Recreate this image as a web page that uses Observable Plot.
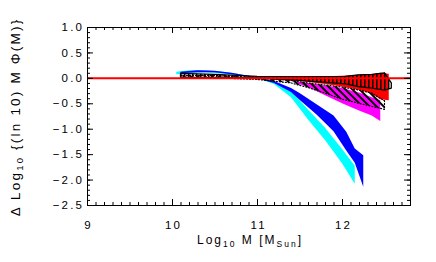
<!DOCTYPE html>
<html>
<head>
<meta charset="utf-8">
<script src="https://cdn.jsdelivr.net/npm/d3@7"></script>
<script src="https://cdn.jsdelivr.net/npm/@observablehq/plot@0.6"></script>
<style>
  html, body { margin: 0; padding: 0; background: white; }
</style>
</head>
<body>
<div id="chart"></div>
<script>
// ---- Data ----
const xTicks = [9, 10, 11, 12];
const yTicks = [1.0, 0.5, 0.0, -0.5, -1.0, -1.5, -2.0, -2.5];

// Cyan band
const cyanX  = [10.05, 10.2, 10.4, 10.6, 10.8, 11.0, 11.2, 11.4, 11.6, 11.8, 12.0, 12.15];
const cyanLo = [0.07, 0.10, 0.11, 0.08, 0.04, -0.01, -0.12, -0.38, -0.82, -1.22, -1.68, -2.08];
const cyanHi = [0.12, 0.15, 0.15, 0.12, 0.07, 0.01, -0.07, -0.26, -0.62, -0.98, -1.40, -1.73];

// Blue band
const blueX  = [10.1, 10.3, 10.5, 10.7, 10.9, 11.0, 11.2, 11.4, 11.5, 11.7, 11.9, 12.05, 12.15, 12.25];
const blueLo = [0.09, 0.11, 0.11, 0.07, 0.02, -0.01, -0.10, -0.28, -0.43, -0.72, -1.05, -1.43, -1.67, -2.14];
const blueHi = [0.12, 0.15, 0.14, 0.10, 0.04, 0.01, -0.06, -0.20, -0.30, -0.52, -0.74, -1.06, -1.39, -1.52];

// Magenta band
const magX  = [11.42, 11.6, 11.8, 12.0, 12.2, 12.35, 12.45];
const magLo = [-0.08, -0.18, -0.34, -0.50, -0.64, -0.74, -0.85];
const magHi = [-0.06, -0.10, -0.15, -0.20, -0.29, -0.38, -0.44];

// Red band
const redX  = [10.9, 11.2, 11.5, 11.8, 12.0, 12.2, 12.35, 12.45, 12.55];
const redLo = [-0.01, -0.03, -0.06, -0.12, -0.17, -0.24, -0.31, -0.42, -0.44];
const redHi = [0.02, 0.03, 0.03, 0.03, 0.04, 0.06, 0.07, 0.10, 0.08];

// Black diagonal-hatched band (dotted outline)
const diagX  = [10.1, 10.5, 11.0, 11.4, 11.6, 11.8, 12.0, 12.2, 12.35, 12.5];
const diagLo = [0.01, 0.0, -0.03, -0.10, -0.19, -0.30, -0.42, -0.50, -0.56, -0.62];
const diagHi = [0.05, 0.05, 0.0, -0.05, -0.10, -0.14, -0.18, -0.24, -0.30, -0.45];

// Black vertical-hatched band (solid outline)
const vertX  = [10.1, 10.5, 11.0, 11.5, 12.04, 12.19, 12.35, 12.5, 12.58];
const vertLo = [0.01, 0.01, 0.0, -0.05, -0.12, -0.17, -0.20, -0.24, -0.20];
const vertHi = [0.09, 0.07, 0.03, 0.02, 0.03, 0.06, 0.07, 0.10, -0.10];

const band = (xs, lo, hi) => xs.map((x, i) => ({x, lo: lo[i], hi: hi[i]}));

const xMinor = d3.range(9, 12.81, 0.1).map(v => +v.toFixed(1));
const yMinor = d3.range(-2.5, 1.01, 0.1).map(v => +v.toFixed(1));
const fmtY = d => d.toFixed(1).replace("-", "\u2212");

const font = "Liberation Sans, Arial, Helvetica, sans-serif";

// inner plot size (for inward tick lengths)
const W = 436, H = 262, mL = 87, mR = 26, mT = 27, mB = 57;
const iW = W - mL - mR, iH = H - mT - mB;
const major = 6, minor = 3;
const ls = 2.2; // letter spacing of tick labels

const svg = Plot.plot({
  width: W,
  height: H,
  marginLeft: mL,
  marginRight: mR,
  marginTop: mT,
  marginBottom: mB,
  x: {domain: [9, 12.8]},
  y: {domain: [-2.5, 1.0]},
  style: {fontFamily: font, fontSize: "11px", background: "white", color: "black"},
  marks: [
    Plot.areaY(band(cyanX, cyanLo, cyanHi), {x: "x", y1: "lo", y2: "hi", fill: "cyan"}),
    Plot.areaY(band(blueX, blueLo, blueHi), {x: "x", y1: "lo", y2: "hi", fill: "blue"}),
    Plot.areaY(band(magX, magLo, magHi), {x: "x", y1: "lo", y2: "hi", fill: "magenta"}),
    Plot.areaY(band(redX, redLo, redHi), {x: "x", y1: "lo", y2: "hi", fill: "red"}),
    Plot.areaY(band(diagX, diagLo, diagHi), {x: "x", y1: "lo", y2: "hi", fill: "url(#dhatch)", stroke: "black", strokeWidth: 1.2, strokeDasharray: "1,2"}),
    Plot.areaY(band(vertX, vertLo, vertHi), {x: "x", y1: "lo", y2: "hi", fill: "url(#vhatch)", stroke: "black", strokeWidth: 1.3}),
    Plot.ruleY([0], {stroke: "red", strokeWidth: 2}),
    Plot.frame({stroke: "black", strokeWidth: 1}),
    // inward ticks on all four sides
    Plot.tickX(xTicks, {x: d => d, insetTop: iH - major, stroke: "black"}),
    Plot.tickX(xMinor, {x: d => d, insetTop: iH - minor, stroke: "black"}),
    Plot.tickX(xTicks, {x: d => d, insetBottom: iH - major, stroke: "black"}),
    Plot.tickX(xMinor, {x: d => d, insetBottom: iH - minor, stroke: "black"}),
    Plot.tickY(yTicks, {y: d => d, insetRight: iW - major, stroke: "black"}),
    Plot.tickY(yMinor, {y: d => d, insetRight: iW - minor, stroke: "black"}),
    Plot.tickY(yTicks, {y: d => d, insetLeft: iW - major, stroke: "black"}),
    Plot.tickY(yMinor, {y: d => d, insetLeft: iW - minor, stroke: "black"}),
    // tick labels
    Plot.axisX(xTicks, {anchor: "bottom", label: null, tickSize: 0, tickPadding: 15, tickFormat: d => String(d)}),
    Plot.axisY(yTicks, {anchor: "left", label: null, tickSize: 0, tickPadding: 5.5, tickFormat: fmtY})
  ]
});

const root = d3.select(svg);

// Wider, IDL-like tick label typography (compensate trailing letter spacing)
const shift = (sel, dx) => sel.attr("transform", function () {
  return `translate(${dx},0) ` + (this.getAttribute("transform") || "");
});
root.selectAll("g[aria-label$='tick label']")
  .attr("font-size", 11.5)
  .style("letter-spacing", ls + "px");
shift(root.selectAll("g[aria-label='y-axis tick label']"), ls);
shift(root.selectAll("g[aria-label='x-axis tick label']"), ls / 2);

// Hatch patterns
const defs = root.insert("defs", ":first-child");
defs.append("pattern")
  .attr("id", "vhatch").attr("patternUnits", "userSpaceOnUse")
  .attr("width", 4).attr("height", 4)
  .append("rect").attr("x", 0).attr("y", 0).attr("width", 1.5).attr("height", 4).attr("fill", "black");
const dp = defs.append("pattern")
  .attr("id", "dhatch").attr("patternUnits", "userSpaceOnUse")
  .attr("width", 5).attr("height", 5)
  .attr("patternTransform", "rotate(-45)");
dp.append("rect").attr("x", 0).attr("y", 0).attr("width", 2).attr("height", 5).attr("fill", "black");

// Axis titles (with subscripts)
const xl = root.append("text")
  .attr("x", 250).attr("y", 244)
  .attr("text-anchor", "middle")
  .attr("font-family", font).attr("font-size", 12).attr("letter-spacing", "2px")
  .attr("fill", "black");
xl.append("tspan").text("Log");
xl.append("tspan").attr("font-size", 8.5).attr("dy", 3).text("10");
xl.append("tspan").attr("dy", -3).text(" M [M");
xl.append("tspan").attr("font-size", 8.5).attr("dy", 3).text("Sun");
xl.append("tspan").attr("dy", -3).text("]");

const yl = root.append("text")
  .attr("transform", "translate(20,117) rotate(-90)")
  .attr("text-anchor", "middle")
  .attr("font-family", font).attr("font-size", 13.5).attr("letter-spacing", "2.2px")
  .attr("fill", "black");
yl.append("tspan").text("\u0394 Log");
yl.append("tspan").attr("font-size", 9.5).attr("dy", 3).text("10");
yl.append("tspan").attr("dy", -3).text(" {(ln 10) M \u03A6(M)}");

document.getElementById("chart").appendChild(svg);
</script>
</body>
</html>
